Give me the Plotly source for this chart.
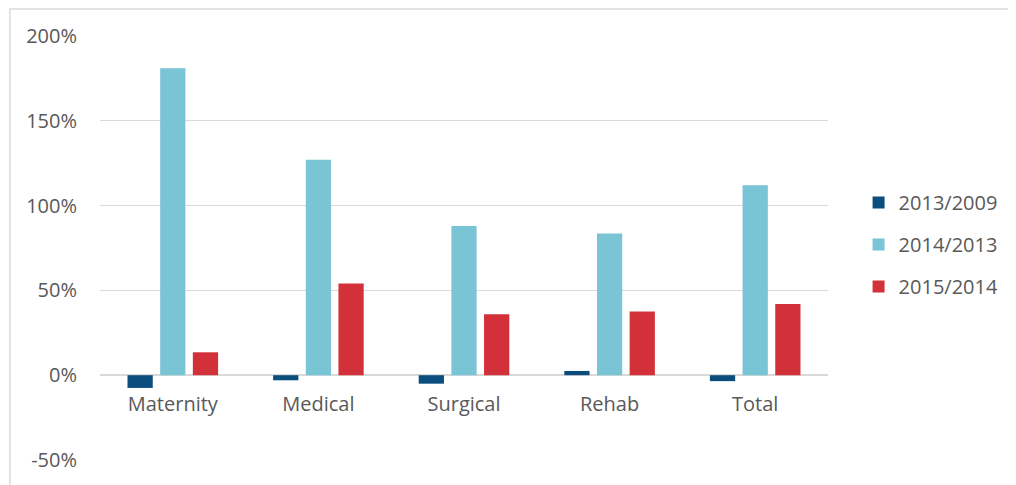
import plotly.graph_objects as go

categories = ["Maternity", "Medical", "Surgical", "Rehab", "Total"]
series_names = ["2013/2009", "2014/2013", "2015/2014"]
s2013_2009 = [-7.5, -3.0, -5.0, 2.5, -3.5]
s2014_2013 = [181, 127, 88, 83.5, 112]
s2015_2014 = [13.5, 54, 36, 37.5, 42]
colors = ["#0b4d7c", "#79c5d5", "#d3313a"]
tick_vals = [-50, 0, 50, 100, 150, 200]
tick_text = ["-50%", "0%", "50%", "100%", "150%", "200%"]

font_family = "Open Sans, Noto Sans, sans-serif"
text_color = "#595959"
grid_color = "#d9d9d9"

# page body has an 8px margin; size the figure so the plot lands where the reference has it
W, H = 1008, 477
L, T = 92, 28
PW, PH = 735, 424

fig = go.Figure()
for i, (name, vals) in enumerate(zip(series_names, [s2013_2009, s2014_2013, s2015_2014])):
    fig.add_trace(go.Bar(
        x=categories, y=vals, name=name,
        marker=dict(color=colors[i], line=dict(width=0)),
        legendgroup=name,
    ))

fig.update_layout(
    width=W, height=H,
    margin=dict(l=L, r=W - L - PW, t=T, b=H - T - PH, pad=0),
    paper_bgcolor="white", plot_bgcolor="white",
    barmode="group", bargap=0.327, bargroupgap=0.227,
    font=dict(family=font_family, size=20, color=text_color),
    showlegend=True,
    legend=dict(
        x=1.042, y=0.508, xanchor="left", yanchor="middle",
        font=dict(size=20, color=text_color),
        tracegroupgap=13, itemwidth=30,
        bgcolor="rgba(0,0,0,0)",
    ),
    xaxis=dict(
        anchor="free", position=0.2,
        showgrid=False, showline=False, zeroline=False,
        ticks="", tickfont=dict(size=20, color=text_color),
        ticklabelstandoff=15,
    ),
    yaxis=dict(
        range=[-50, 200], tickvals=tick_vals, ticktext=tick_text,
        showgrid=True, gridcolor=grid_color, gridwidth=1,
        zeroline=True, zerolinecolor=grid_color, zerolinewidth=1.5,
        showline=False, ticks="", ticklabelstandoff=22,
        tickfont=dict(size=20, color=text_color),
    ),
    shapes=[dict(
        type="rect", xref="paper", yref="paper",
        x0=(1 - L) / PW, x1=1.5, y0=-0.2, y1=(T + PH - 1) / PH,
        line=dict(color="#d9d9d9", width=1.5), fillcolor="rgba(0,0,0,0)", layer="below",
    )],
)

fig.write_html("out.html")
